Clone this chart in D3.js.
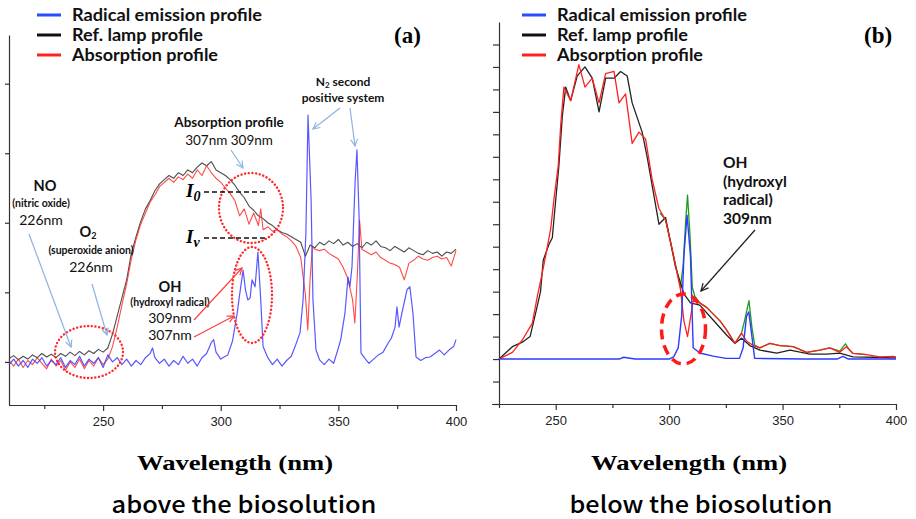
<!DOCTYPE html>
<html>
<head>
<meta charset="utf-8">
<script src="https://cdn.jsdelivr.net/npm/d3@7"></script>
<style>
body { margin: 0; background: #fff; }
svg { display: block; }
</style>
</head>
<body>
<svg id="chart"></svg>
<script>
// legend entries, same for both panels
const seriesNames = ['Radical emission profile', 'Ref. lamp profile', 'Absorption profile'];
const legendColors = ['#2a4cff', '#111111', '#ff2020'];
const legendWidths = [190, 131, 146]; // measured text widths

const majorTicks = [250, 300, 350, 400];
const minorTicks = [225, 275, 325, 375];

// ---- panel (a): above the biosolution (arb. units, 100 per y tick) ----
const refLampA = [[210,5],[212,9],[214,3],[216,8],[218,4],[220,10],[222,6],[224,12],[226,7],[228,11],[230,6],[232,12],[234,8],[236,14],[238,9],[240,15],[242,10],[244,16],[246,12],[248,18],[250,14],[252,20],[254,40],[256,66],[258,92],[260,118],[262,156],[264,180],[266,202],[268,220],[270,232],[272,246],[274,256],[276,262],[278,268],[280,264],[282,272],[284,268],[286,276],[288,272],[290,280],[292,286],[294,282],[296,288],[298,276],[300,272],[302,268],[304,262],[306,254],[308,244],[310,236],[312,224],[314,218],[316,210],[318,206],[320,200],[322,196],[324,190],[326,186],[328,184],[330,180],[332,176],[334,172],[336,152],[338,168],[340,164],[342,172],[344,168],[346,174],[348,170],[350,176],[352,168],[354,172],[356,166],[358,170],[360,164],[362,172],[364,168],[366,174],[368,166],[370,164],[372,160],[374,166],[376,162],[378,158],[380,164],[382,160],[384,156],[386,154],[388,160],[390,156],[392,158],[394,152],[396,158],[398,156],[400,162]];

const absorptionA = [[210,2],[212,-6],[214,4],[216,-8],[218,2],[220,-4],[222,6],[224,-2],[226,-10],[228,4],[230,-6],[232,2],[234,-12],[236,0],[238,-8],[240,4],[242,-10],[244,2],[246,-6],[248,6],[250,-4],[252,4],[254,22],[256,50],[258,82],[260,112],[262,148],[264,176],[266,198],[268,214],[270,230],[272,240],[274,252],[276,258],[278,264],[280,258],[282,266],[284,262],[286,270],[288,264],[290,276],[292,268],[294,282],[296,272],[298,264],[300,258],[302,250],[304,242],[306,232],[308,210],[310,220],[312,198],[314,214],[316,196],[317,220],[318,190],[320,194],[322,188],[324,190],[326,184],[328,180],[330,174],[332,166],[334,150],[336,96],[337,46],[338,120],[339,166],[340,162],[342,160],[344,162],[346,156],[348,152],[350,148],[352,136],[354,120],[356,90],[357,56],[358,120],[359,204],[360,162],[362,158],[364,154],[366,158],[368,150],[370,146],[372,142],[374,140],[376,136],[378,118],[380,142],[382,146],[384,152],[386,148],[388,146],[390,150],[392,152],[394,148],[396,150],[398,138],[400,160]];

const emissionA = [[210,-4],[212,4],[214,-6],[216,2],[218,-8],[220,4],[222,-2],[224,6],[226,-6],[228,2],[230,-4],[232,6],[234,-8],[236,2],[238,-4],[240,8],[242,-6],[244,4],[246,-2],[248,6],[250,-8],[252,10],[254,0],[256,6],[258,-4],[260,4],[262,-6],[264,2],[266,-4],[268,6],[270,12],[271,20],[272,6],[274,-2],[276,4],[278,-6],[280,2],[282,-4],[284,8],[286,-2],[288,4],[290,-6],[292,6],[294,12],[296,28],[297,32],[298,14],[300,4],[302,8],[303,10],[305,30],[307,70],[308,96],[309.5,132],[310.5,104],[311.5,89],[312.5,92],[313.3,118],[314.6,108],[315.8,158],[317,89],[318,22],[320,6],[322,-4],[324,4],[326,-6],[328,2],[330,8],[331.6,22],[333.7,42],[335,89],[336.2,186],[337.1,355],[338.4,233],[339.2,89],[340.5,17],[342,3],[344,-4],[346,4],[348,-2],[350,20],[351,32],[352.8,70],[354.1,122],[354.9,108],[355.8,137],[357.1,258],[357.9,305],[358.8,209],[359.6,13],[361,6],[363,-2],[365,4],[367,10],[369,14],[371,26],[372.5,34],[374.1,50],[374.9,79],[375.8,50],[377,70],[379.2,104],[380.4,108],[381.7,70],[383,7],[385,2],[387,6],[389,7],[391,12],[393,17],[395,10],[397,17],[399,22],[400,32]];

// ---- panel (b): below the biosolution (1 unit per y tick) ----
const refLampB = [[225,0],[230.9,0.55],[235.3,0.75],[238.7,1.0],[241.5,2.2],[243.3,3.0],[244.5,4.4],[247,5.1],[248.5,5.4],[249.2,6.2],[251.4,8.6],[252.9,10.8],[254.4,12.1],[256.6,11.5],[259.5,12.6],[262.9,13.0],[266.1,12.5],[269.1,11.0],[272,12.5],[275.7,12.5],[278.6,12.8],[281.5,12.6],[283.7,11.4],[288.1,10.1],[290.3,9.0],[295.5,6.0],[298.4,6.3],[302.8,4.1],[306.5,2.9],[309.4,2.5],[313.5,2.4],[319.4,1.74],[325.3,1.07],[329,0.7],[331.9,0.93],[335.6,0.6],[340,0.4],[347.4,0.26],[353.3,0.4],[362.1,0.22],[369.4,0.22],[375.2,0.26],[381,0.1],[389.9,0.08],[398.7,0.05],[400,0.05]];

const absorptionB = [[225,0],[230.9,0.3],[235.3,0.85],[239.7,1.6],[241.9,2.8],[243.4,3.5],[245.6,4.6],[247.8,5.8],[249.2,7.1],[251.1,8.6],[252.2,10.4],[253.6,12.1],[256.6,11.5],[260.2,13.1],[262.9,12.1],[266.1,12.5],[269.1,11.4],[272,12.7],[275.7,12.8],[277.9,11.4],[280.8,11.8],[283.7,9.6],[286.7,10.1],[289.6,9.8],[292.5,8.0],[295.5,6.7],[298.4,6.2],[301.3,4.9],[305,3.1],[306.5,1.7],[308.1,1.0],[310.6,2.6],[313.5,2.5],[316.5,2.3],[322.4,1.7],[325.3,1.3],[329,0.7],[331.9,1.15],[334.1,0.8],[337.1,0.6],[340,0.5],[344.4,0.7],[348.8,0.6],[354.7,0.55],[360.6,0.3],[366.4,0.4],[370.8,0.5],[375.2,0.3],[378.1,0.55],[381.1,0.25],[387,0.2],[392.8,0.1],[398.7,0.12],[400,0.1]];

const emissionB = [[225,0],[240,0],[278,0],[280,0.08],[282,0.05],[285,0],[300,0],[302,0.1],[304,0.5],[305.5,1.9],[306.5,4.6],[307.9,6.4],[309.4,4.6],[310.6,0.5],[313.5,0.27],[319.4,0.13],[325,0.03],[331,0.03],[332.6,0.5],[334.1,1.9],[335.1,2.1],[336.3,1.15],[337.7,0.03],[360,0],[374,0],[376.6,0.12],[379,0],[400,0]];

// green trace under the others, only shows at the emission peaks
const combinedB = [[296,6.5],[298.4,6.2],[301.3,4.9],[305,3.2],[306.2,4.2],[307.2,6.0],[308.1,7.3],[309.2,5.5],[310.2,3.2],[311.3,2.8],[313.5,2.5],[316.5,2.3],[322.4,1.7],[325.3,1.3],[329,0.7],[331.9,1.15],[333,1.6],[335.2,2.6],[336.5,1.4],[337.7,0.62],[340,0.5],[344.4,0.7],[348.8,0.6],[354.7,0.55],[360.6,0.3],[366.4,0.4],[370.8,0.5],[375.2,0.35],[377.7,0.68],[379.5,0.4],[381.1,0.25],[387,0.2]];

const W = 916, H = 519;
const svg = d3.select('#chart').attr('width', W).attr('height', H);

const sansFont = 'Lato, "Noto Sans", sans-serif';
const captionFont = '"Noto Sans CJK KR", "Noto Sans", sans-serif';
const serifFont = '"Liberation Serif", "DejaVu Serif", serif';

// arrow heads
const defs = svg.append('defs');
function marker(id, color) {
	defs.append('marker')
		.attr('id', id)
		.attr('viewBox', '0 0 10 10')
		.attr('refX', 9).attr('refY', 5)
		.attr('markerWidth', 7).attr('markerHeight', 7)
		.attr('orient', 'auto')
		.append('path')
		.attr('d', 'M1,1 L9,5 L1,9')
		.attr('fill', 'none')
		.attr('stroke', color)
		.attr('stroke-width', 1.4);
}
marker('arrBlue', '#8db2e0');
marker('arrRed', '#ff4040');
marker('arrBlack', '#222');

function drawPanel(p) {
	const g = svg.append('g');
	const x = d3.scaleLinear().domain(p.xDomain).range(p.xRange);
	const y = d3.scaleLinear().domain(p.yDomain).range(p.yRange);

	// x axis: labelled major ticks and short minor ticks
	const xAxis = d3.axisBottom(x)
		.tickValues(majorTicks.concat(minorTicks))
		.tickSize(p.tickLen)
		.tickSizeOuter(0)
		.tickFormat(d => majorTicks.includes(d) ? d : '');
	const gx = g.append('g')
		.attr('transform', 'translate(0,' + p.yRange[0] + ')')
		.call(xAxis);
	gx.selectAll('.tick line')
		.attr('y2', d => majorTicks.includes(d) ? p.tickLen : p.tickLen - 2);
	gx.select('.domain').attr('d', 'M' + (p.xRange[0] - p.axisOverhang) + ',0.5H' + p.xRange[1]);
	gx.selectAll('text')
		.attr('y', 12)
		.style('font-family', p.tickFont)
		.style('font-size', '13px')
		.attr('fill', '#222');

	const yAxis = d3.axisLeft(y)
		.tickValues(p.yTicks)
		.tickSize(p.yTickLen)
		.tickSizeOuter(0)
		.tickFormat('');
	g.append('g')
		.attr('transform', 'translate(' + p.xRange[0] + ',0)')
		.call(yAxis);
	g.selectAll('.domain, .tick line').attr('stroke', '#333').attr('stroke-width', 1.2);

	const line = d3.line().x(d => x(d[0])).y(d => y(d[1]));
	p.series.forEach(s => {
		g.append('path')
			.datum(s.data)
			.attr('d', line)
			.attr('fill', 'none')
			.attr('stroke', s.color)
			.attr('stroke-width', s.width)
			.attr('stroke-opacity', s.opacity)
			.attr('stroke-linejoin', 'round');
	});

	// legend
	seriesNames.forEach((name, i) => {
		const ly = 15 + i * 20;
		g.append('line')
			.attr('x1', p.legendX).attr('x2', p.legendX + 24)
			.attr('y1', ly).attr('y2', ly)
			.attr('stroke', legendColors[i])
			.attr('stroke-width', 3);
		g.append('text')
			.attr('x', p.legendX + 35).attr('y', ly + 6)
			.attr('textLength', legendWidths[i]).attr('lengthAdjust', 'spacingAndGlyphs')
			.style('font-family', sansFont).style('font-weight', 700).style('font-size', '16.5px')
			.attr('fill', '#111')
			.text(name);
	});

	g.append('text')
		.attr('x', p.tagX).attr('y', 43)
		.style('font-family', serifFont).style('font-weight', 700).style('font-size', '23px')
		.text(p.tag);

	g.append('text')
		.attr('x', p.titleX).attr('y', 470)
		.attr('text-anchor', 'middle')
		.attr('textLength', 196).attr('lengthAdjust', 'spacingAndGlyphs')
		.style('font-family', serifFont).style('font-weight', 700).style('font-size', '21px')
		.text('Wavelength (nm)');

	g.append('text')
		.attr('x', p.captionX).attr('y', 513)
		.attr('text-anchor', 'middle')
		.attr('textLength', p.captionLen).attr('lengthAdjust', 'spacingAndGlyphs')
		.style('font-family', captionFont).style('font-weight', 500).style('font-size', '23px')
		.text(p.caption);

	return { g, x, y };
}

const panelA = drawPanel({
	xDomain: [210, 400], xRange: [9, 456],
	yDomain: [-62, 470], yRange: [405, 35],
	yTicks: [0, 100, 200, 300, 400], yTickLen: 4, tickLen: 6, axisOverhang: 0,
	tickFont: '"Liberation Sans", Arial, sans-serif',
	series: [
		{ data: refLampA, color: '#3a3a3a', width: 1.1, opacity: 0.9 },
		{ data: absorptionA, color: '#ff2a2a', width: 1.1, opacity: 0.85 },
		{ data: emissionA, color: '#3b3bff', width: 1.2, opacity: 0.85 }
	],
	legendX: 37, tag: '(a)', tagX: 394,
	titleX: 235, caption: 'above the biosolution', captionX: 244, captionLen: 265
});

const panelB = drawPanel({
	xDomain: [225, 400], xRange: [499, 896],
	yDomain: [-2, 15], yRange: [404, 22],
	yTicks: d3.range(-2, 15), yTickLen: 6, tickLen: 6, axisOverhang: 7,
	tickFont: '"Liberation Sans Narrow", "Liberation Sans", Arial, sans-serif',
	series: [
		{ data: combinedB, color: '#1f9a1f', width: 1.3, opacity: 1 },
		{ data: refLampB, color: '#222', width: 1.3, opacity: 1 },
		{ data: absorptionB, color: '#ff2020', width: 1.3, opacity: 1 },
		{ data: emissionB, color: '#2b3bff', width: 1.4, opacity: 1 }
	],
	legendX: 522, tag: '(b)', tagX: 864,
	titleX: 689, caption: 'below the biosolution', captionX: 701, captionLen: 263
});

// ---- annotations, panel (a) ----
const ga = panelA.g;
function label(g, x, y, txt, size, weight, anchor) {
	return g.append('text')
		.attr('x', x).attr('y', y)
		.attr('text-anchor', anchor || 'middle')
		.style('font-family', sansFont)
		.style('font-size', size + 'px')
		.style('font-weight', weight)
		.attr('fill', '#111')
		.text(txt);
}
function arrow(g, x1, y1, x2, y2, color, mk, w) {
	g.append('line')
		.attr('x1', x1).attr('y1', y1).attr('x2', x2).attr('y2', y2)
		.attr('stroke', color).attr('stroke-width', w || 1.2)
		.attr('marker-end', 'url(#' + mk + ')');
}
function dotted(g, cx, cy, rx, ry) {
	g.append('ellipse')
		.attr('cx', cx).attr('cy', cy).attr('rx', rx).attr('ry', ry)
		.attr('fill', 'none').attr('stroke', '#ff2a2a')
		.attr('stroke-width', 2.4)
		.attr('stroke-dasharray', '0.1,3.6')
		.attr('stroke-linecap', 'round');
}

const n2 = label(ga, 343, 86, 'N', 12, 700);
n2.append('tspan').attr('font-size', '8px').attr('dy', 2).text('2');
n2.append('tspan').attr('dy', -2).text(' second');
label(ga, 343, 102, 'positive system', 12, 700);
arrow(ga, 340, 108, 313, 129, '#8db2e0', 'arrBlue');
arrow(ga, 350, 108, 355, 146, '#8db2e0', 'arrBlue');

label(ga, 229, 127, 'Absorption profile', 13.5, 700);
label(ga, 229, 145, '307nm  309nm', 13.5, 400);
arrow(ga, 231, 150, 243, 168, '#8db2e0', 'arrBlue');

dotted(ga, 251, 208, 32, 35);
dotted(ga, 252, 295, 20, 48);
dotted(ga, 89, 352, 34, 26);

function intensity(g, yy, sub) {
	const t = g.append('text')
		.attr('x', 186).attr('y', yy + 5)
		.style('font-family', serifFont).style('font-style', 'italic')
		.style('font-weight', 700).style('font-size', '19px')
		.text('I');
	t.append('tspan').attr('font-size', '14px').attr('dy', 4).text(sub);
	g.append('line')
		.attr('x1', 204).attr('x2', 266).attr('y1', yy).attr('y2', yy)
		.attr('stroke', '#111').attr('stroke-width', 1.6)
		.attr('stroke-dasharray', '5,3');
}
intensity(ga, 192, '0');
intensity(ga, 238, 'v');

label(ga, 45, 191, 'NO', 14.5, 700);
label(ga, 41, 207, '(nitric oxide)', 10.5, 700);
label(ga, 41, 225, '226nm', 14, 400);
const o2 = label(ga, 88, 237, 'O', 14.5, 700);
o2.append('tspan').attr('font-size', '9px').attr('dy', 2).text('2');
label(ga, 91, 254, '(superoxide anion)', 10.5, 700);
label(ga, 91, 272, '226nm', 14, 400);
arrow(ga, 29, 234, 71, 347, '#8db2e0', 'arrBlue');
arrow(ga, 92, 284, 107, 335, '#8db2e0', 'arrBlue');

label(ga, 170, 292, 'OH', 14.5, 700);
label(ga, 170, 306, '(hydroxyl radical)', 10.5, 700);
label(ga, 170, 323, '309nm', 14, 400);
label(ga, 170, 340, '307nm', 14, 400);
arrow(ga, 194, 320, 242, 268, '#ff4040', 'arrRed');
arrow(ga, 194, 337, 234, 316, '#ff4040', 'arrRed');

// ---- annotations, panel (b) ----
const gb = panelB.g;
label(gb, 723, 168, 'OH', 15.5, 700, 'start');
label(gb, 723, 186.5, '(hydroxyl', 15.5, 700, 'start');
label(gb, 723, 205, 'radical)', 15.5, 700, 'start');
label(gb, 723, 223.5, '309nm', 15.5, 700, 'start');
arrow(gb, 755, 230, 701, 291, '#222', 'arrBlack', 1.3);
gb.append('ellipse')
	.attr('cx', 683.5).attr('cy', 329).attr('rx', 22).attr('ry', 35)
	.attr('fill', 'none').attr('stroke', '#ff1a1a')
	.attr('stroke-width', 3.5).attr('stroke-dasharray', '10,6');
</script>
</body>
</html>
